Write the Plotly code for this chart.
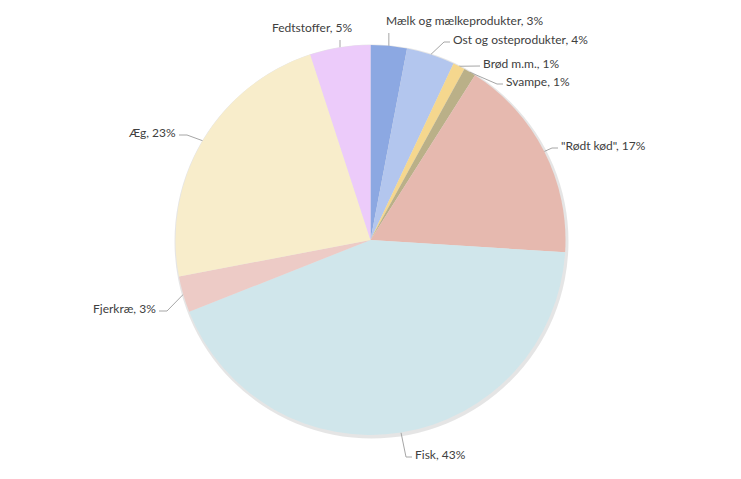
import math
import plotly.graph_objects as go

# ---- data ----
categories = ["Mælk og mælkeprodukter", "Ost og osteprodukter", "Brød m.m.", "Svampe",
              "\"Rødt kød\"", "Fisk", "Fjerkræ", "Æg", "Fedtstoffer"]
values = [3, 4, 1, 1, 17, 43, 3, 23, 5]

# ---- style ----
colors = ["#8CA8E2", "#B3C6EE", "#F5D78E", "#BAB088", "#E6B9AF",
          "#D0E6EB", "#EDCBC6", "#F8EDCB", "#ECCBFA"]
W, H = 741, 479
OFF = 8  # page body margin
CX, CY, R = 370.5 - OFF, 240 - OFF, 195
# label text anchor positions (pixels, page coords) and side
label_pos = [(384, 20, "top"), (451, 39, "left"), (481, 63, "left"), (504, 81, "left"),
             (559, 145, "left"), (413, 454, "left"), (158, 308, "right"),
             (178, 132, "right"), (355, 27, "topr")]
text_color = "#404040"
line_color = "#A6A6A6"
FONT = "Lato"

fig = go.Figure()

# shadow
fig.add_shape(type="circle", xref="x", yref="y",
              x0=CX - R - 1, x1=CX + R + 3, y0=CY - R - 0.5, y1=CY + R + 3.5,
              line=dict(width=0), fillcolor="rgba(0,0,0,0.10)", layer="below")

fig.add_trace(go.Pie(
    labels=categories, values=values, sort=False, direction="clockwise",
    rotation=0, marker=dict(colors=colors, line=dict(width=0)),
    textinfo="none", hoverinfo="label+percent", showlegend=False,
    domain=dict(x=[(CX - R) / W, (CX + R) / W],
                y=[(H - CY - R) / H, (H - CY + R) / H]),
))

total = sum(values)
cum = 0
for lab, v, (tx, ty, side) in zip(categories, values, label_pos):
    tx, ty = tx - OFF, ty - OFF
    mid = (cum + v / 2) / total * 2 * math.pi
    cum += v
    ax = CX + R * math.sin(mid)
    ay = CY - R * math.cos(mid)
    pct = round(v / total * 100)
    text = f"{lab}, {pct}%"
    if side in ("top", "topr"):
        xs, ys = [ax, ax], [ay, ty + 13]
        xanchor = "left" if side == "top" else "right"
    elif side == "left":
        ex, ey = tx - 1, ty + 3
        xs, ys = [ax, ex - 6, ex], [ay, ey, ey]
        xanchor = "left"
    else:
        ex, ey = tx + 1, ty + 3
        xs, ys = [ax, ex + 8, ex], [ay, ey, ey]
        xanchor = "right"
    fig.add_trace(go.Scatter(x=xs, y=ys, mode="lines", line=dict(color=line_color, width=1),
                             hoverinfo="skip", showlegend=False))
    fig.add_annotation(x=tx, y=ty, xref="x", yref="y", text=text, showarrow=False,
                       xanchor=xanchor, yanchor="middle",
                       font=dict(family=FONT, size=12, color=text_color))

fig.update_layout(
    width=W, height=H, margin=dict(l=0, r=0, t=0, b=0),
    paper_bgcolor="white", plot_bgcolor="white",
    xaxis=dict(range=[0, W], visible=False, fixedrange=True),
    yaxis=dict(range=[H, 0], visible=False, fixedrange=True),
)

fig.write_html("out.html")
